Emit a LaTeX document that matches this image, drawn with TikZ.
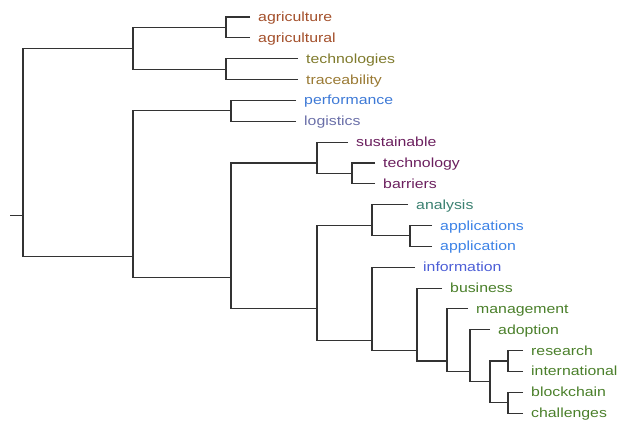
\documentclass[tikz,border=0pt]{standalone}
\usepackage{fontspec}
\setmainfont{Liberation Sans}[FakeStretch=1.2]
\definecolor{cAgri}{HTML}{A34F2A}
\definecolor{cTech}{HTML}{7F7A2C}
\definecolor{cTrace}{HTML}{9A7A34}
\definecolor{cPerf}{HTML}{3D79D6}
\definecolor{cLog}{HTML}{6A6FA8}
\definecolor{cSust}{HTML}{6B1F5E}
\definecolor{cAnal}{HTML}{3A8070}
\definecolor{cApp}{HTML}{3C82E6}
\definecolor{cInfo}{HTML}{4C5ED6}
\definecolor{cGreen}{HTML}{4A7F2A}
\definecolor{branch}{HTML}{333333}
\tikzset{
  link/.style={draw=branch, line width=1.1pt},
  leaf/.style={anchor=base west, inner sep=0pt, xshift=8pt, yshift=-4.5pt,
               font=\fontsize{13.2}{15}\selectfont},
}
% vertical position of leaf number #1 (may be fractional for internal nodes)
\newcommand\leafy[1]{{17+20.85*(#1)}}
\begin{document}
\begin{tikzpicture}[x=1pt, y=-1pt]
\useasboundingbox (0,0) rectangle (617,420);

% leaf ends and their labels
\foreach \i/\xe/\word/\col in {
  0/250/agriculture/cAgri, 1/250/agricultural/cAgri,
  2/298/technologies/cTech, 3/298/traceability/cTrace,
  4/296/performance/cPerf, 5/296/logistics/cLog,
  6/348/sustainable/cSust, 7/375/technology/cSust, 8/375/barriers/cSust,
  9/408/analysis/cAnal, 10/432/applications/cApp, 11/432/application/cApp,
  12/415/information/cInfo, 13/442/business/cGreen, 14/468/management/cGreen,
  15/490/adoption/cGreen, 16/523/research/cGreen, 17/523/international/cGreen,
  18/523/blockchain/cGreen, 19/523/challenges/cGreen}{
  \coordinate (l\i) at (\xe,\leafy{\i});
  \node[leaf, text=\col] (t\i) at (l\i) {\word};
}

% internal merge points: x = height, y = middle of the leaves below
\coordinate (nAgri) at (226,\leafy{0.5});
\coordinate (nTech) at (226,\leafy{2.5});
\coordinate (nTop)  at (133,\leafy{1.5});
\coordinate (nPerf) at (231,\leafy{4.5});
\coordinate (nTB)   at (352,\leafy{7.5});
\coordinate (nSust) at (317,\leafy{7});
\coordinate (nApps) at (410,\leafy{10.5});
\coordinate (nAnal) at (372,\leafy{10});
\coordinate (nRC)   at (508,\leafy{16.5});
\coordinate (nBC)   at (508,\leafy{18.5});
\coordinate (nRest) at (490,\leafy{17.5});
\coordinate (nAdop) at (470,\leafy{17});
\coordinate (nMgmt) at (447,\leafy{16.5});
\coordinate (nBus)  at (417,\leafy{16});
\coordinate (nInfo) at (372,\leafy{15.5});
\coordinate (nAI)   at (317,\leafy{14});
\coordinate (nBig)  at (231,\leafy{12.5});
\coordinate (nBot)  at (133,\leafy{11.5});
\coordinate (nRoot) at (23,\leafy{9.5});
\coordinate (stub)  at (10,\leafy{9.5});

% branches: each child runs across to its parent's height, then down/up
\foreach \c/\p in {
  l0/nAgri, l1/nAgri, l2/nTech, l3/nTech, nAgri/nTop, nTech/nTop,
  l4/nPerf, l5/nPerf,
  l7/nTB, l8/nTB, l6/nSust, nTB/nSust,
  l10/nApps, l11/nApps, l9/nAnal, nApps/nAnal,
  l16/nRC, l17/nRC, l18/nBC, l19/nBC, nRC/nRest, nBC/nRest,
  l15/nAdop, nRest/nAdop, l14/nMgmt, nAdop/nMgmt,
  l13/nBus, nMgmt/nBus, l12/nInfo, nBus/nInfo,
  nAnal/nAI, nInfo/nAI, nSust/nBig, nAI/nBig,
  nPerf/nBot, nBig/nBot, nTop/nRoot, nBot/nRoot}{
  \draw[link] (\c) -| (\p);
}
\draw[link] (stub) -- (nRoot);
\end{tikzpicture}
\end{document}
